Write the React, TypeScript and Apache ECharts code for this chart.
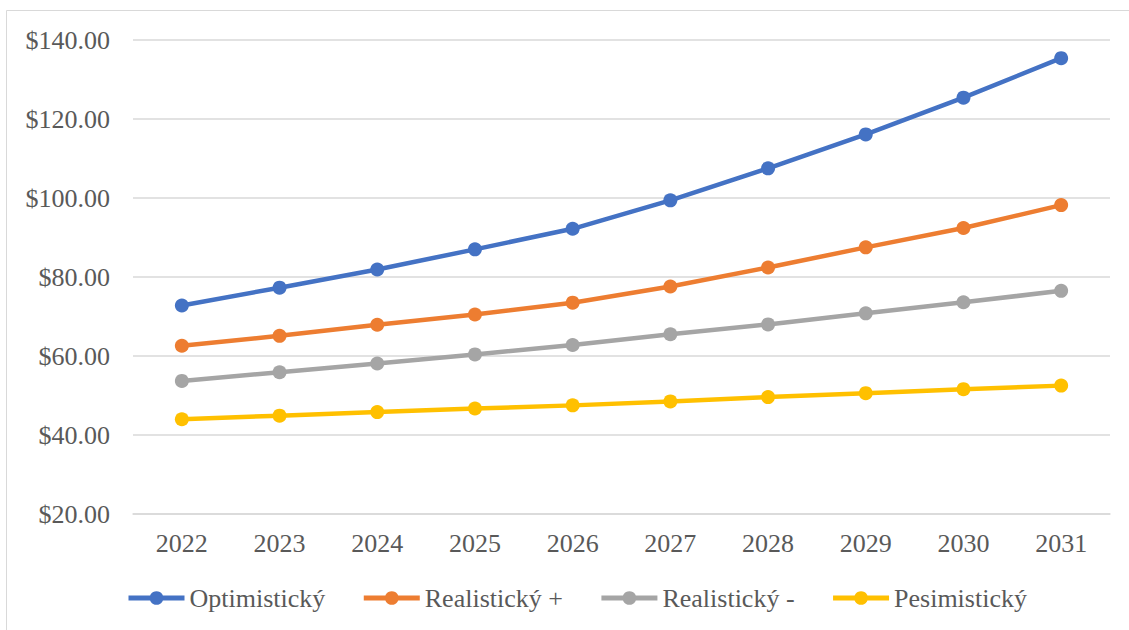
import React, { useEffect, useRef } from "react";
import * as echarts from "echarts";

const years = ["2022", "2023", "2024", "2025", "2026", "2027", "2028", "2029", "2030", "2031"];
const optimistic = [72.8, 77.3, 81.9, 87.0, 92.2, 99.4, 107.5, 116.1, 125.4, 135.4];
const realisticPlus = [62.6, 65.1, 67.9, 70.5, 73.5, 77.6, 82.4, 87.5, 92.4, 98.2];
const realisticMinus = [53.7, 55.9, 58.1, 60.4, 62.8, 65.5, 68.0, 70.8, 73.6, 76.5];
const pessimistic = [44.0, 44.9, 45.8, 46.7, 47.5, 48.5, 49.6, 50.6, 51.6, 52.5];
const seriesNames = ["Optimistický", "Realistický +", "Realistický -", "Pesimistický"];
const colors = ["#4472C4", "#ED7D31", "#A5A5A5", "#FFC000"];

export default function App() {
  const ref = useRef<HTMLDivElement>(null);
  useEffect(() => {
    if (!ref.current) return;
    const chart = echarts.init(ref.current, null, { renderer: "svg" });
    const font = "Liberation Serif";
    const data = [optimistic, realisticPlus, realisticMinus, pessimistic];
    chart.setOption({
      animation: false,
      color: colors,
      textStyle: { fontFamily: font, fontSize: 26 },
      graphic: [
        {
          type: "rect",
          shape: { x: 6.5, y: 10.5, width: 1140, height: 640 },
          style: { fill: "none", stroke: "#d9d9d9", lineWidth: 1 },
          silent: true,
        },
      ],
      grid: { left: 133, right: 19, top: 40, bottom: 116, containLabel: false, outerBoundsMode: "none" },
      legend: {
        top: 580,
        left: 121,
        itemWidth: 56,
        itemHeight: 17,
        itemGap: 36,
        lineStyle: { width: 5 },
        textStyle: { fontFamily: font, fontSize: 26, color: "#595959", lineHeight: 26 },
        data: seriesNames,
      },
      xAxis: {
        type: "category",
        data: years,
        boundaryGap: true,
        axisLine: { show: true, lineStyle: { color: "#d9d9d9", width: 1.5 } },
        axisTick: { show: false },
        axisLabel: { fontFamily: font, fontSize: 26, color: "#595959", margin: 16 },
      },
      yAxis: {
        type: "value",
        min: 20,
        max: 140,
        interval: 20,
        axisLine: { show: false },
        axisTick: { show: false },
        splitLine: { lineStyle: { color: "#d9d9d9", width: 1.5 } },
        axisLabel: {
          fontFamily: font,
          fontSize: 26,
          color: "#595959",
          margin: 23,
          formatter: (v: number) => "$" + v.toFixed(2),
        },
      },
      series: seriesNames.map((name, i) => ({
        name,
        type: "line",
        data: data[i],
        symbol: "circle",
        symbolSize: 14,
        lineStyle: { width: 4.5, color: colors[i] },
        itemStyle: { color: colors[i] },
      })),
    });
    return () => chart.dispose();
  }, []);
  return (
    <div
      ref={ref}
      style={{ position: "absolute", left: 0, top: 0, width: 1129, height: 630, background: "#fff" }}
    />
  );
}
